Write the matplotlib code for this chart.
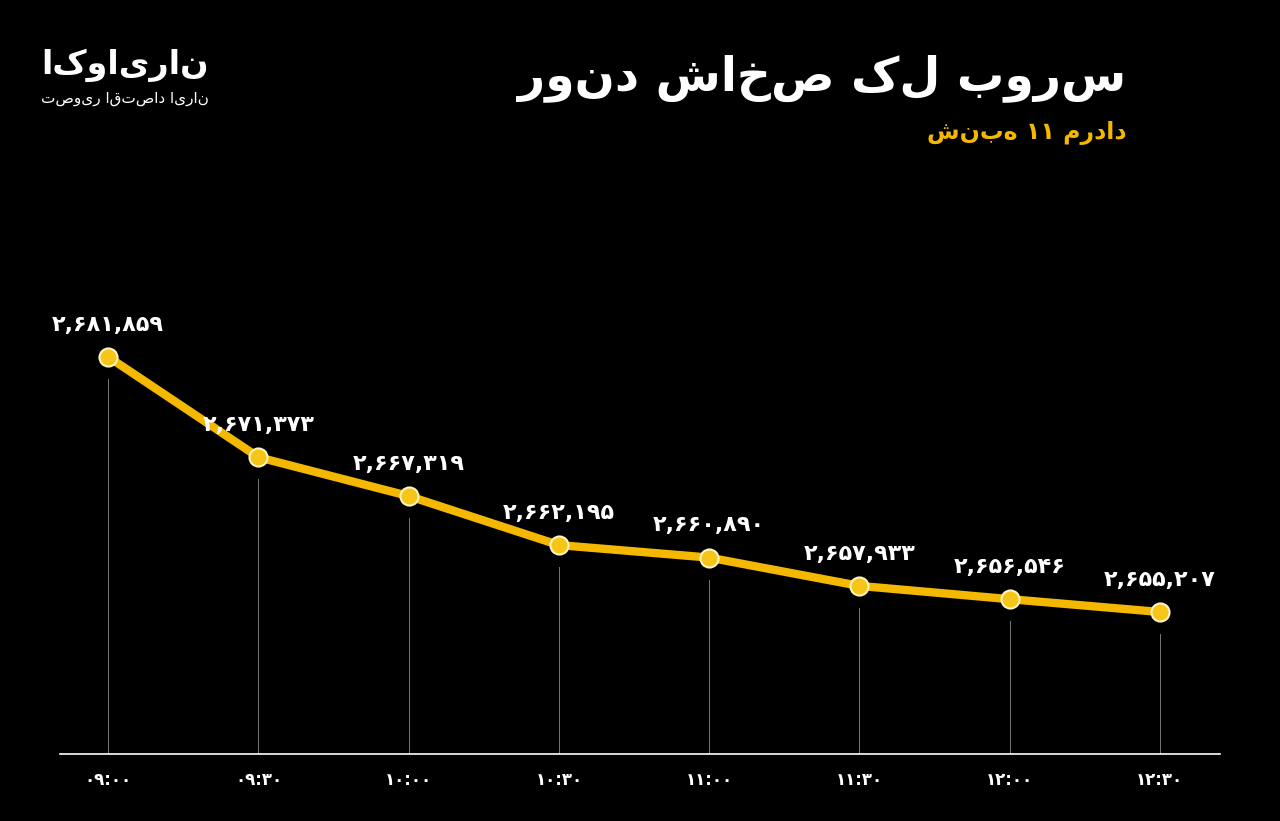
import matplotlib
matplotlib.use("Agg")
import matplotlib.pyplot as plt

times = ["۰۹:۰۰", "۰۹:۳۰", "۱۰:۰۰", "۱۰:۳۰", "۱۱:۰۰", "۱۱:۳۰", "۱۲:۰۰", "۱۲:۳۰"]
values = [2681859, 2671373, 2667319, 2662195, 2660890, 2657933, 2656546, 2655207]
title = "روند شاخص کل بورس"
subtitle = "شنبه ۱۱ مرداد"
brand = "اکوایران"
brand_sub = "تصویر اقتصاد ایران"

fa = str.maketrans("0123456789", "۰۱۲۳۴۵۶۷۸۹")

fig = plt.figure(figsize=(12.8, 8.21), dpi=100, facecolor="black")
ax = fig.add_axes([0.047, 0.0816, 0.906, 0.602], facecolor="black")
x = list(range(len(values)))
ax.set_xlim(-0.32, 7.4)
ax.set_ylim(2640370, 2692000)
gold = "#F5B800"
for xi, v in zip(x, values):
    ax.plot([xi, xi], [ax.get_ylim()[0], v - 2300], color="#777777", lw=0.7, zorder=1)
    ax.annotate(f"{v:,}".translate(fa), (xi, v), xytext=(0, 16), textcoords="offset points",
                ha="center", va="bottom", color="white", fontsize=16, fontweight="bold",
                family="DejaVu Sans")
ax.plot(x, values, color=gold, lw=6, zorder=2, solid_capstyle="round")
ax.plot(x, values, "o", ms=13, mfc="#F5C518", mec="#FFF3C0", mew=1.5, zorder=3)
for s in ["top", "right", "left"]:
    ax.spines[s].set_visible(False)
ax.spines["bottom"].set_color("white")
ax.spines["bottom"].set_linewidth(1.2)
ax.set_yticks([])
ax.set_xticks(x)
ax.set_xticklabels(times, color="white", fontsize=12, fontweight="bold")
ax.tick_params(axis="x", length=0, pad=12)

fig.text(0.88, 0.905, title, color="white", fontsize=34, fontweight="bold", ha="right", va="center")
fig.text(0.88, 0.838, subtitle, color=gold, fontsize=17, fontweight="bold", ha="right", va="center")
fig.text(0.163, 0.92, brand, color="white", fontsize=24, fontweight="bold", ha="right", va="center")
fig.text(0.163, 0.88, brand_sub, color="white", fontsize=11, ha="right", va="center")
fig.savefig("out.png", dpi=100, facecolor="black")
